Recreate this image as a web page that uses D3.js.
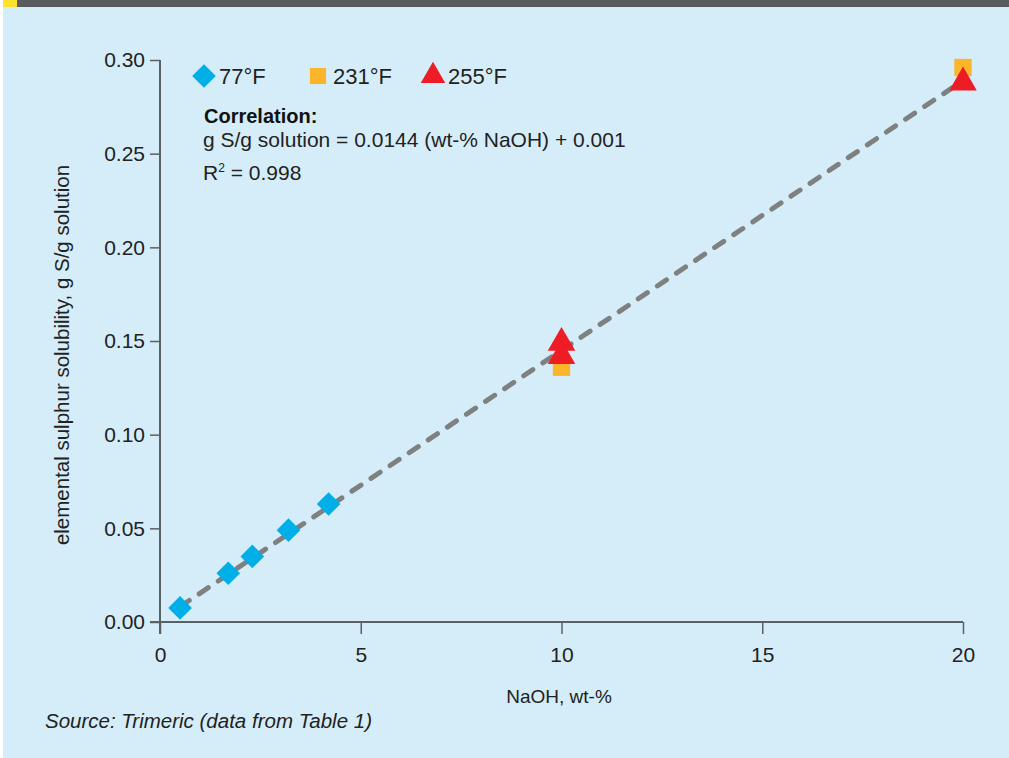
<!DOCTYPE html>
<html lang="en">
<head>
<meta charset="utf-8">
<title>sulphur solubility</title>
<script src="https://cdn.jsdelivr.net/npm/d3@7"></script>
<style>
  body{margin:0;background:#fff;}
  svg{display:block;font-family:"Liberation Sans",Arial,sans-serif;}
</style>
</head>
<body>
<div id="chart"></div>
<script>
// data
var series77 = [[0.5, 0.0075], [1.7, 0.026], [2.3, 0.035], [3.2, 0.049], [4.2, 0.063]]
var series231 = [[10, 0.136], [20, 0.296]]
var series255 = [[10, 0.149], [10, 0.142], [20, 0.288]]
var xTicks = [0, 5, 10, 15, 20]
var yTicks = [0, 0.05, 0.10, 0.15, 0.20, 0.25, 0.30]
var fitSlope = 0.0144, fitIntercept = 0.001
var fitRange = [0.5, 20]

var W = 1009, H = 758
var svg = d3.select("#chart").append("svg").attr("width", W).attr("height", H)

// background panel + top strip
svg.append("rect").attr("x", 3).attr("y", 0).attr("width", W - 3).attr("height", H).attr("fill", "#d5edf9")
svg.append("rect").attr("x", 3).attr("y", 0).attr("width", W - 3).attr("height", 7).attr("fill", "#585c5e")
svg.append("rect").attr("x", 3).attr("y", 0).attr("width", 14).attr("height", 7).attr("fill", "#ffe22d")

var x = d3.scaleLinear().domain([0, 20]).range([160, 963])
var y = d3.scaleLinear().domain([0, 0.30]).range([622, 60])
var axisColor = "#5b6063"

// y axis
var gy = svg.append("g").attr("transform", "translate(160,0)")
  .call(d3.axisLeft(y).tickValues(yTicks).tickFormat(d3.format(".2f")).tickSize(10).tickPadding(5))
gy.select(".domain").remove()
gy.append("line").attr("x1", 0).attr("x2", 0).attr("y1", 60).attr("y2", 634)
  .attr("stroke", axisColor).attr("stroke-width", 2)
gy.selectAll(".tick line").attr("stroke", axisColor).attr("stroke-width", 1.5)
gy.selectAll(".tick text").attr("fill", "#222").style("font-size", "21px")

// x axis
var gx = svg.append("g").attr("transform", "translate(0,622)")
  .call(d3.axisBottom(x).tickValues(xTicks).tickSize(12).tickPadding(13))
gx.select(".domain").remove()
gx.append("line").attr("x1", 150).attr("x2", 963).attr("y1", 0).attr("y2", 0)
  .attr("stroke", axisColor).attr("stroke-width", 2)
gx.selectAll(".tick line").attr("stroke", axisColor).attr("stroke-width", 1.5)
gx.selectAll(".tick text").attr("fill", "#222").style("font-size", "21px")

// axis titles
svg.append("text").attr("x", 559).attr("y", 703).attr("text-anchor", "middle")
  .attr("fill", "#222").style("font-size", "19px").text("NaOH, wt-%")
svg.append("text").attr("transform", "translate(69,355) rotate(-90)").attr("text-anchor", "middle")
  .attr("fill", "#222").style("font-size", "20.5px").text("elemental sulphur solubility, g S/g solution")
svg.append("text").attr("x", 45).attr("y", 728).attr("fill", "#222")
  .style("font-size", "20.5px").style("font-style", "italic").text("Source: Trimeric (data from Table 1)")

// fit line
svg.append("line")
  .attr("x1", x(fitRange[0])).attr("y1", y(fitSlope * fitRange[0] + fitIntercept))
  .attr("x2", x(fitRange[1])).attr("y2", y(fitSlope * fitRange[1] + fitIntercept))
  .attr("stroke", "#7f8080").attr("stroke-width", 5).attr("stroke-linecap", "round")
  .attr("stroke-dasharray", "11,12")

var diamond = d3.symbol().type(d3.symbolSquare).size(280)
var square = d3.symbol().type(d3.symbolSquare).size(300)
var triangle = d3.symbol().type(d3.symbolTriangle).size(330)

svg.selectAll(".sq").data(series231).enter().append("path").attr("class", "sq")
  .attr("d", square).attr("fill", "#fbb52b")
  .attr("transform", function(d){ return "translate(" + x(d[0]) + "," + y(d[1]) + ")" })
svg.selectAll(".tri").data(series255).enter().append("path").attr("class", "tri")
  .attr("d", triangle).attr("fill", "#ee1c25")
  .attr("transform", function(d){ return "translate(" + x(d[0]) + "," + y(d[1]) + ")" })
svg.selectAll(".dia").data(series77).enter().append("path").attr("class", "dia")
  .attr("d", diamond).attr("fill", "#00aee8")
  .attr("transform", function(d){ return "translate(" + x(d[0]) + "," + y(d[1]) + ") rotate(45)" })

// legend
var legend = [
  {label: "77°F", shape: diamond, color: "#00aee8", rot: 45, x: 204},
  {label: "231°F", shape: d3.symbol().type(d3.symbolSquare).size(260), color: "#fbb52b", rot: 0, x: 318},
  {label: "255°F", shape: d3.symbol().type(d3.symbolTriangle).size(260), color: "#ee1c25", rot: 0, x: 433}
]
var lg = svg.selectAll(".lg").data(legend).enter().append("g").attr("class", "lg")
  .attr("transform", function(d){ return "translate(" + d.x + ",76)" })
lg.append("path").attr("d", function(d){ return d.shape() }).attr("fill", function(d){ return d.color })
  .attr("transform", function(d){ return "rotate(" + d.rot + ")" })
lg.append("text").attr("x", 15).attr("y", 8).attr("fill", "#222").style("font-size", "22px")
  .text(function(d){ return d.label })

// correlation note
svg.append("text").attr("x", 204).attr("y", 123).attr("fill", "#111")
  .style("font-size", "20px").style("font-weight", "bold").text("Correlation:")
svg.append("text").attr("x", 203).attr("y", 147).attr("fill", "#222")
  .style("font-size", "21px").text("g S/g solution = 0.0144 (wt-% NaOH) + 0.001")
var r2 = svg.append("text").attr("x", 203).attr("y", 180).attr("fill", "#222").style("font-size", "21px")
r2.append("tspan").text("R")
r2.append("tspan").attr("dy", -8).style("font-size", "12px").text("2")
r2.append("tspan").attr("dy", 8).text(" = 0.998")
</script>
</body>
</html>
